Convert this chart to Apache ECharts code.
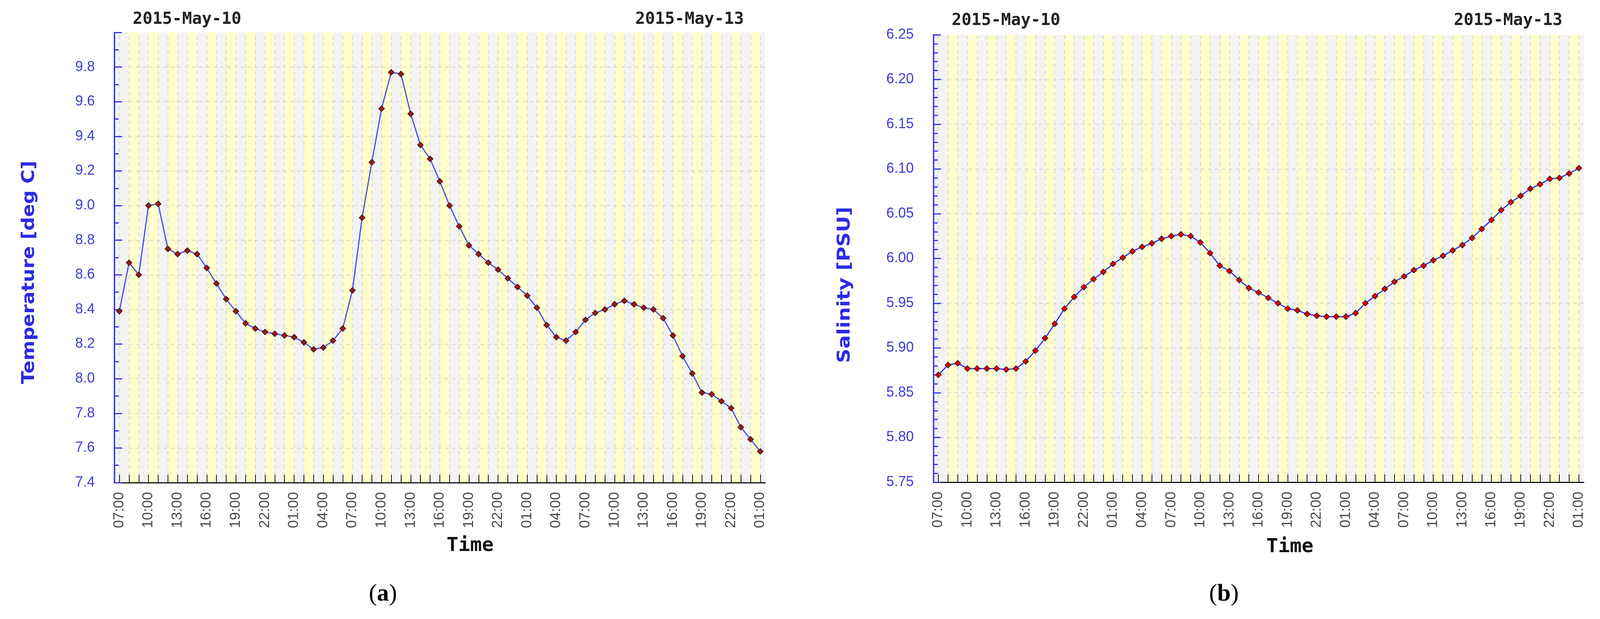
<!DOCTYPE html>
<html><head><meta charset="utf-8">
<script src="https://cdn.jsdelivr.net/npm/echarts@6/dist/echarts.min.js"></script>
<style>html,body{margin:0;padding:0;background:#fff;overflow:hidden}#c{width:100vw;height:100vh}</style>
</head><body><div id="c"></div>
<script>
// hourly categories: 2015-05-10 07:00 .. 2015-05-13 01:00
const timeLabels = [
'07:00','08:00','09:00','10:00','11:00','12:00','13:00','14:00','15:00','16:00','17:00','18:00','19:00','20:00','21:00','22:00','23:00',
'00:00','01:00','02:00','03:00','04:00','05:00','06:00','07:00','08:00','09:00','10:00','11:00','12:00','13:00','14:00','15:00','16:00','17:00','18:00','19:00','20:00','21:00','22:00','23:00',
'00:00','01:00','02:00','03:00','04:00','05:00','06:00','07:00','08:00','09:00','10:00','11:00','12:00','13:00','14:00','15:00','16:00','17:00','18:00','19:00','20:00','21:00','22:00','23:00',
'00:00','01:00'];

const temperature = [
8.39,8.67,8.60,9.00,9.01,8.75,8.72,8.74,8.72,8.64,8.55,8.46,8.39,8.32,8.29,8.27,8.26,
8.25,8.24,8.21,8.17,8.18,8.22,8.29,8.51,8.93,9.25,9.56,9.77,9.76,9.53,9.35,9.27,9.14,9.00,8.88,8.77,8.72,8.67,8.63,8.58,
8.53,8.48,8.41,8.31,8.24,8.22,8.27,8.34,8.38,8.40,8.43,8.45,8.43,8.41,8.40,8.35,8.25,8.13,8.03,7.92,7.91,7.87,7.83,7.72,
7.65,7.58];

const salinity = [
5.870,5.881,5.883,5.877,5.877,5.877,5.877,5.876,5.877,5.885,5.897,5.911,5.927,5.944,5.957,5.968,5.977,
5.985,5.994,6.001,6.008,6.013,6.017,6.022,6.025,6.027,6.025,6.018,6.006,5.992,5.986,5.976,5.967,5.962,5.956,5.950,5.944,5.942,5.938,5.936,5.935,
5.935,5.935,5.939,5.950,5.958,5.966,5.974,5.980,5.987,5.992,5.998,6.003,6.009,6.015,6.023,6.033,6.043,6.054,6.063,6.070,6.078,6.083,6.089,6.090,
6.095,6.101];

const tempAxis = {min: 7.4, max: 10.0, interval: 0.2, minorSplit: 2, decimals: 1};
const salAxis  = {min: 5.75, max: 6.25, interval: 0.05, minorSplit: 5, decimals: 2};
const dateLabels = ['2015-May-10', '2015-May-13'];
const yTitles = ['Temperature [deg C]', 'Salinity [PSU]'];
const xTitle = 'Time';
const panelTags = ['a', 'b'];

const el = document.getElementById('c');
const chart = echarts.init(el, null, {renderer: 'canvas'});
// layout is designed on a 4220 x 1584 canvas; adapt to the real viewport
const W = el.clientWidth || window.innerWidth, H = el.clientHeight || window.innerHeight;
const kx = W / 4220, ky = H / 1584;
const sx = v => v * kx, sy = v => v * ky;

const grids = [
  {left: sx(302), top: sy(83), width: sx(1716), height: sy(1152)},
  {left: sx(2462), top: sy(89), width: sx(1715), height: sy(1145)}
];

function stripeData(n) {
  const a = [];
  for (let i = 1; i < n - 1; i += 2) a.push([{xAxis: i}, {xAxis: i + 1}]);
  return a;
}
function vLines(n) {
  const a = [];
  for (let i = 0; i < n; i++) a.push({xAxis: i});
  return a;
}
function hLines(ax) {
  const a = [];
  const steps = Math.round((ax.max - ax.min) / ax.interval);
  for (let k = 1; k < steps; k++) a.push({yAxis: +(ax.min + k * ax.interval).toFixed(4)});
  return a;
}

function xAxisCfg(gi) {
  return {
    type: 'category', gridIndex: gi, data: timeLabels, boundaryGap: true, z: 6,
    axisLine: {show: true, lineStyle: {color: '#151515', width: 3}},
    axisTick: {show: true, alignWithLabel: true, inside: true, interval: 0, length: 20, lineStyle: {color: '#151515', width: 2}},
    axisLabel: {interval: 2, rotate: 90, margin: 24, color: '#4a4a4a', fontSize: 37, fontFamily: 'Liberation Sans'},
    splitLine: {show: false}
  };
}
function yAxisCfg(gi, ax) {
  return {
    type: 'value', gridIndex: gi, min: ax.min, max: ax.max, interval: ax.interval, z: 6,
    axisLine: {show: true, lineStyle: {color: '#3232F0', width: 3.5}},
    axisTick: {show: true, inside: true, length: 19, lineStyle: {color: '#3232F0', width: 3}},
    minorTick: {show: true, splitNumber: ax.minorSplit, length: 11, lineStyle: {color: '#3232F0', width: 3}},
    axisLabel: {margin: sx(52), color: '#3C3CDC', fontSize: 36, fontFamily: 'Liberation Sans',
      formatter: v => (ax === tempAxis && Math.abs(v - ax.max) < 1e-6) ? '' : (+v).toFixed(ax.decimals)},
    splitLine: {show: false}
  };
}
function backdrop(gi, data, ax) {
  return [
    {type: 'line', xAxisIndex: gi, yAxisIndex: gi, data: data, silent: true, z: 1,
     symbol: 'none', lineStyle: {opacity: 0},
     markArea: {silent: true, z: 1, itemStyle: {color: '#FFFFCA'}, data: stripeData(timeLabels.length)}},
    {type: 'line', xAxisIndex: gi, yAxisIndex: gi, data: data, silent: true, z: 2,
     symbol: 'none', lineStyle: {opacity: 0},
     markLine: {silent: true, z: 2, symbol: ['none', 'none'], label: {show: false},
       lineStyle: {color: '#C6C6CE', type: [9, 9], width: 1.5},
       data: vLines(timeLabels.length).concat(hLines(ax))}}
  ];
}
function mainSeries(gi, data, lineColor, fill, border) {
  return {
    type: 'line', xAxisIndex: gi, yAxisIndex: gi, data: data, z: 10,
    symbol: 'diamond', symbolSize: 15, showAllSymbol: true,
    lineStyle: {color: lineColor, width: 3},
    itemStyle: {color: fill, borderColor: border, borderWidth: 1.5}
  };
}

const monoFont = '"DejaVu Sans Mono"';
const titleFont = 'bold 45px "DejaVu Sans"';
const option = {
  backgroundColor: '#ffffff',
  animation: false,
  grid: grids.map(g => Object.assign({show: true, backgroundColor: '#F3F3F3', borderWidth: 0}, g)),
  xAxis: [xAxisCfg(0), xAxisCfg(1)],
  yAxis: [yAxisCfg(0, tempAxis), yAxisCfg(1, salAxis)],
  series: [].concat(
    backdrop(0, temperature, tempAxis),
    backdrop(1, salinity, salAxis),
    [mainSeries(0, temperature, '#4A4AE6', '#9A1A1A', '#3A0808'),
     mainSeries(1, salinity, '#2F2FFF', '#E00000', '#2A0000')]
  ),
  graphic: [
    {type: 'text', x: sx(78), y: sy(697), rotation: Math.PI / 2, scaleX: 1.09,
     style: {text: yTitles[0], font: titleFont, fill: '#2B2BE6', align: 'center', verticalAlign: 'middle'}},
    {type: 'text', x: sx(2229), y: sy(729), rotation: Math.PI / 2, scaleX: 1.14,
     style: {text: yTitles[1], font: titleFont, fill: '#2B2BE6', align: 'center', verticalAlign: 'middle'}},
    {type: 'text', x: sx(350), y: sy(50), style: {text: dateLabels[0], font: 'bold 42px ' + monoFont, fill: '#222', align: 'left', verticalAlign: 'middle'}},
    {type: 'text', x: sx(1962), y: sy(50), style: {text: dateLabels[1], font: 'bold 42px ' + monoFont, fill: '#222', align: 'right', verticalAlign: 'middle'}},
    {type: 'text', x: sx(2510), y: sy(53), style: {text: dateLabels[0], font: 'bold 42px ' + monoFont, fill: '#222', align: 'left', verticalAlign: 'middle'}},
    {type: 'text', x: sx(4121), y: sy(53), style: {text: dateLabels[1], font: 'bold 42px ' + monoFont, fill: '#222', align: 'right', verticalAlign: 'middle'}},
    {type: 'text', x: sx(1240), y: sy(1397), style: {text: xTitle, font: 'bold 50px ' + monoFont, fill: '#111', align: 'center', verticalAlign: 'middle'}},
    {type: 'text', x: sx(3402), y: sy(1400), style: {text: xTitle, font: 'bold 50px ' + monoFont, fill: '#111', align: 'center', verticalAlign: 'middle'}},
    {type: 'text', x: sx(1010), y: sy(1521), style: {text: '{p|(}{b|' + panelTags[0] + '}{p|)}', align: 'center', verticalAlign: 'middle',
      rich: {p: {font: '62px "Liberation Serif"', fill: '#000'}, b: {font: 'bold 62px "Liberation Serif"', fill: '#000'}}}},
    {type: 'text', x: sx(3228), y: sy(1521), style: {text: '{p|(}{b|' + panelTags[1] + '}{p|)}', align: 'center', verticalAlign: 'middle',
      rich: {p: {font: '62px "Liberation Serif"', fill: '#000'}, b: {font: 'bold 62px "Liberation Serif"', fill: '#000'}}}}
  ]
};
chart.setOption(option);
</script>
</body></html>
